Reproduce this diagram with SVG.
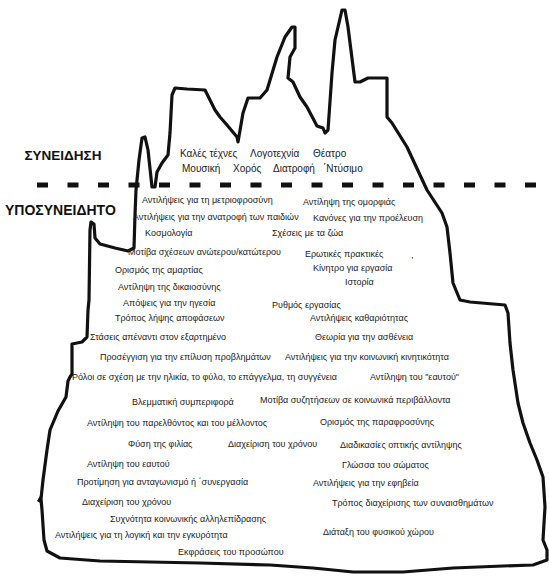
<svg xmlns="http://www.w3.org/2000/svg" width="549" height="585" viewBox="0 0 549 585">
<style>
.t{font-family:"Liberation Sans",Arial,sans-serif;font-size:9px;fill:#222}
.t10{font-family:"Liberation Sans",Arial,sans-serif;font-size:10px;fill:#222}
.h{font-family:"Liberation Sans",Arial,sans-serif;font-size:13.5px;font-weight:bold;fill:#111}
</style>
<rect width="549" height="585" fill="#fff"/>
<g id="waterline">
<line x1="37" y1="185" x2="541" y2="185" stroke="#111" stroke-width="5" stroke-dasharray="11 19.5"/>
</g>
<g id="iceberg" fill="none" stroke="#111" stroke-width="3.2" stroke-linejoin="round">
<path d="M60 558 L47 551 L44 540 L42 510 L41 499 L43 480 L47 450 L50 430 L58 411 L66 397 L68 381 L70 377 L72 374 L72 344 L82 342 L87 337 L88 310 L89 300 L90 230 L91 222 L94 224 L95 238 L100 244 L115 248 L128 251 L134 248 L135 215 L136 190 L139 160 L142 138 L145 137 L148 150 L152 187 L155 187 L157 172 L162 163 L168 155 L170 133 L172 95 L175 88 L187 89 L205 90 L215 110 L220 117 L227 125 L237 137 L238 142 L243 113 L248 98 L260 98 L267 90 L277 57 L285 37 L292 27 L295 27 L295 48 L290 57 L288 78 L293 82 L300 97 L307 107 L317 126 L323 128 L325 133 L328 130 L332 73 L335 40 L342 10 L345 10 L348 27 L355 82 L360 82 L368 78 L387 78 L387 117 L392 123 L407 147 L420 175 L427 190 L442 213 L447 227 L450 253 L453 283 L460 300 L470 302 L505 305 L508 313 L510 343 L513 370 L518 403 L523 423 L530 443 L537 460 L543 477 L545 507 L543 540 L547 550 L547 560 L533 565 L503 566 L453 568 L403 572 L353 572 L313 568 L270 565 L200 563 L100 561 Z"/>
</g>
<polygon points="41,494 37,501 42,504" fill="#111"/>
<g id="labels">
<text class="h" x="24.5" y="159.5">ΣΥΝΕΙΔΗΣΗ</text>
<text class="h" x="5" y="215" style="font-size:14px">ΥΠΟΣΥΝΕΙΔΗΤΟ</text>
<text class="t10" x="180" y="157">Καλές τέχνες</text>
<text class="t10" x="250" y="157">Λογοτεχνία</text>
<text class="t10" x="313" y="157">Θέατρο</text>
<text class="t10" x="182" y="172">Μουσική</text>
<text class="t10" x="233" y="172">Χορός</text>
<text class="t10" x="273" y="172">Διατροφή</text>
<text class="t10" x="323" y="172">΄Ντύσιμο</text>
<text class="t" x="142" y="203">Αντιλήψεις για τη μετριοφροσύνη</text>
<text class="t" x="133" y="220">Αντιλήψεις για την ανατροφή των παιδιών</text>
<text class="t" x="145" y="236">Κοσμολογία</text>
<text class="t" x="128" y="255">Μοτίβα σχέσεων ανώτερου/κατώτερου</text>
<text class="t" x="115" y="273">Ορισμός της αμαρτίας</text>
<text class="t" x="118" y="290">Αντίληψη της δικαιοσύνης</text>
<text class="t" x="123" y="306">Απόψεις για την ηγεσία</text>
<text class="t" x="115" y="321">Τρόπος λήψης αποφάσεων</text>
<text class="t" x="90" y="340">Στάσεις απέναντι στον εξαρτημένο</text>
<text class="t" x="100" y="360">Προσέγγιση για την επίλυση προβλημάτων</text>
<text class="t" x="72" y="380">Ρόλοι σε σχέση με την ηλικία, το φύλο, το επάγγελμα, τη συγγένεια</text>
<text class="t" x="132" y="405">Βλεμματική συμπεριφορά</text>
<text class="t" x="87" y="426">Αντίληψη του παρελθόντος και του μέλλοντος</text>
<text class="t" x="128" y="447">Φύση της φιλίας</text>
<text class="t" x="228" y="447">Διαχείριση του χρόνου</text>
<text class="t" x="87" y="467">Αντίληψη του εαυτού</text>
<text class="t" x="77" y="485">Προτίμηση για ανταγωνισμό ή ΄συνεργασία</text>
<text class="t" x="82" y="505">Διαχείριση του χρόνου</text>
<text class="t" x="110" y="522">Συχνότητα κοινωνικής αλληλεπίδρασης</text>
<text class="t" x="55" y="538">Αντιλήψεις για τη λογική και την εγκυρότητα</text>
<text class="t" x="178" y="555">Εκφράσεις του προσώπου</text>
<text class="t" x="303" y="205">Αντίληψη της ομορφιάς</text>
<text class="t" x="313" y="221">Κανόνες για την προέλευση</text>
<text class="t" x="272" y="236">Σχέσεις με τα ζώα</text>
<text class="t" x="305" y="257">Ερωτικές πρακτικές</text>
<text class="t" x="411" y="258">,</text>
<text class="t" x="313" y="271">Κίνητρο για εργασία</text>
<text class="t" x="345" y="285">Ιστορία</text>
<text class="t" x="272" y="308">Ρυθμός εργασίας</text>
<text class="t" x="310" y="321">Αντιλήψεις καθαριότητας</text>
<text class="t" x="315" y="340">Θεωρία για την ασθένεια</text>
<text class="t" x="285" y="360">Αντιλήψεις για την κοινωνική κινητικότητα</text>
<text class="t" x="370" y="380">Αντίληψη του "εαυτού"</text>
<text class="t" x="260" y="403">Μοτίβα συζητήσεων σε κοινωνικά περιβάλλοντα</text>
<text class="t" x="320" y="425">Ορισμός της παραφροσύνης</text>
<text class="t" x="340" y="448">Διαδικασίες οπτικής αντίληψης</text>
<text class="t" x="342" y="468">Γλώσσα του σώματος</text>
<text class="t" x="313" y="486">Αντιλήψεις για την εφηβεία</text>
<text class="t" x="332" y="506">Τρόπος διαχείρισης των συναισθημάτων</text>
<text class="t" x="323" y="535">Διάταξη του φυσικού χώρου</text>
</g>
</svg>
